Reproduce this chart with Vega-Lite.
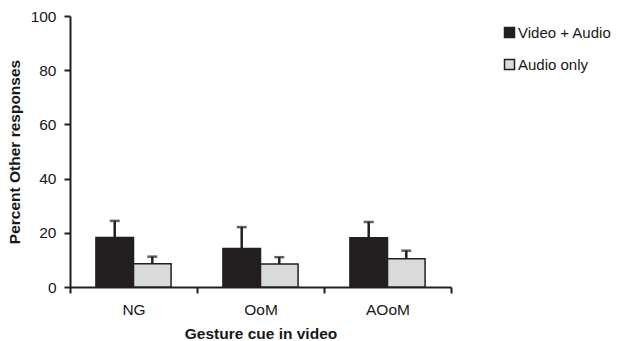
{
  "$schema": "https://vega.github.io/schema/vega-lite/v6.json",
  "width": 381,
  "height": 271,
  "autosize": {"type": "none"},
  "padding": {"left": 70, "top": 16, "right": 166, "bottom": 54},
  "background": "white",
  "config": {
    "view": {"stroke": null},
    "font": "Liberation Sans",
    "axis": {"labelFont": "Liberation Sans", "titleFont": "Liberation Sans", "labelColor": "#1a1718", "titleColor": "#1a1718", "domainColor": "#231f20", "tickColor": "#231f20", "domainWidth": 2, "tickWidth": 2, "grid": false},
    "legend": {"labelFont": "Liberation Sans"}
  },
  "data": {
    "values": [
      {"cue": "NG", "cond": "Video + Audio", "value": 18.3, "upper": 24.4},
      {"cue": "NG", "cond": "Audio only", "value": 8.6, "upper": 11.2},
      {"cue": "OoM", "cond": "Video + Audio", "value": 14.2, "upper": 22.1},
      {"cue": "OoM", "cond": "Audio only", "value": 8.5, "upper": 11.0},
      {"cue": "AOoM", "cond": "Video + Audio", "value": 18.2, "upper": 24.0},
      {"cue": "AOoM", "cond": "Audio only", "value": 10.4, "upper": 13.4}
    ]
  },
  "encoding": {
    "x": {
      "field": "cue", "type": "nominal", "sort": ["NG", "OoM", "AOoM"],
      "scale": {"paddingInner": 0, "paddingOuter": 0},
      "axis": {"title": "Gesture cue in video", "labelAngle": 0, "labelFontSize": 15.5, "titleFontSize": 15.5, "titleFontWeight": "bold", "tickBand": "extent", "tickSize": 6, "labelPadding": 9, "titlePadding": 9}
    },
    "xOffset": {"field": "cond", "type": "nominal", "sort": ["Video + Audio", "Audio only"], "scale": {"paddingInner": 0, "paddingOuter": 0.69}},
    "y": {
      "field": "value", "type": "quantitative",
      "scale": {"domain": [0, 100]},
      "axis": {"title": "Percent Other responses", "values": [0, 20, 40, 60, 80, 100], "labelFontSize": 15.5, "titleFontSize": 15.5, "titleFontWeight": "bold", "tickSize": 6, "labelPadding": 8, "titlePadding": 8}
    }
  },
  "layer": [
    {
      "mark": {"type": "rule", "strokeWidth": 2.5, "color": "#231f20"},
      "encoding": {
        "y2": {"field": "upper"}
      }
    },
    {
      "mark": {"type": "tick", "size": 10, "thickness": 2.5, "color": "#231f20"},
      "encoding": {
        "y": {"field": "upper", "type": "quantitative"}
      }
    },
    {
      "mark": {"type": "bar", "stroke": "#231f20", "strokeWidth": 1.5},
      "encoding": {
        "fill": {
          "field": "cond", "type": "nominal", "sort": ["Video + Audio", "Audio only"],
          "scale": {"domain": ["Video + Audio", "Audio only"], "range": ["#231f20", "#d9dadb"]},
          "legend": {"title": null, "orient": "none", "legendX": 432, "legendY": 9, "symbolType": "square", "symbolSize": 100, "symbolStrokeColor": "#231f20", "symbolStrokeWidth": 1.5, "labelFontSize": 15, "labelColor": "#1a1718", "labelOffset": 1, "rowPadding": 15}
        }
      }
    }
  ]
}
